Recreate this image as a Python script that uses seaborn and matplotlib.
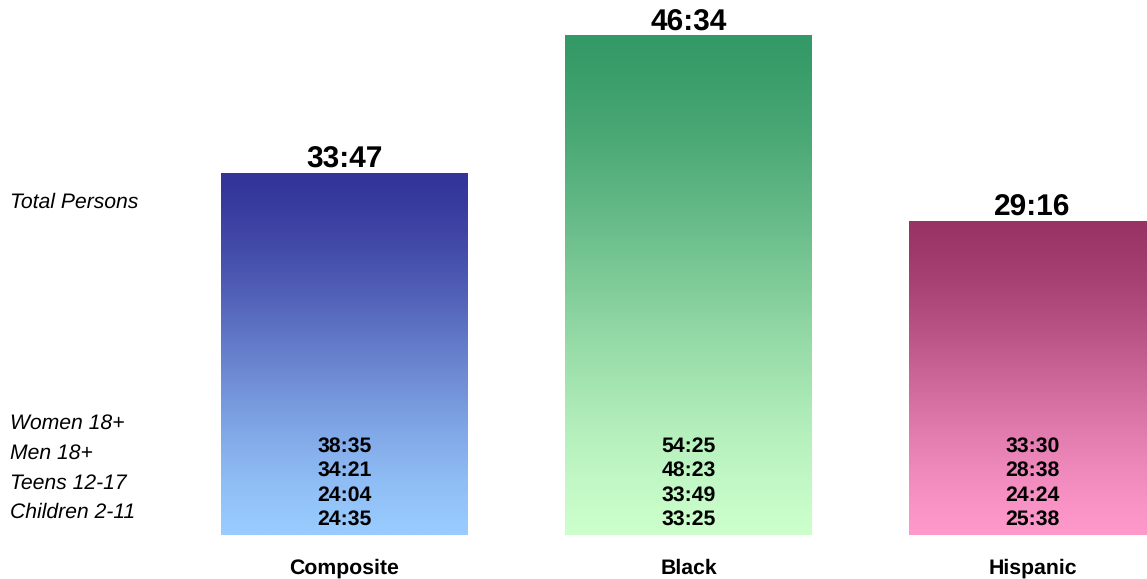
import numpy as np
import pandas as pd
import matplotlib
matplotlib.use("Agg")
import matplotlib.pyplot as plt
import seaborn as sns
from matplotlib.colors import to_rgb

# Weekly viewing time (hh:mm) by audience group
groups = ["Composite", "Black", "Hispanic"]
total_persons = ["33:47", "46:34", "29:16"]
demo_labels = ["Women 18+", "Men 18+", "Teens 12-17", "Children 2-11"]
demo_values = {
    "Composite": ["38:35", "34:21", "24:04", "24:35"],
    "Black": ["54:25", "48:23", "33:49", "33:25"],
    "Hispanic": ["33:30", "28:38", "24:24", "25:38"],
}
top_colors = ["#333399", "#339966", "#993366"]
bottom_colors = ["#99CCFF", "#CCFFCC", "#FF99CC"]


def to_hours(s):
    h, m = s.split(":")
    return int(h) + int(m) / 60.0


df = pd.DataFrame({"group": groups, "hours": [to_hours(v) for v in total_persons]})

sns.set_theme(style="white")
plt.rcParams["font.family"] = ["Liberation Sans", "DejaVu Sans"]
plt.rcParams["text.hinting"] = "no_hinting"

W, H, DPI = 1147, 579, 100
fig = plt.figure(figsize=(W / DPI, H / DPI), dpi=DPI)
base_px = 535
ax = fig.add_axes([0, (H - base_px) / H, 1, base_px / H])

sns.barplot(data=df, x="group", y="hours", width=0.718, color="white",
            ax=ax, linewidth=0, saturation=1)

px_per_unit_x = 344.0
ax.set_xlim(-344.5 / px_per_unit_x, (W - 344.5) / px_per_unit_x)
ax.set_ylim(0, base_px / 10.73)
ax.axis("off")

# Vertical gradient fill for each bar, clipped to the bar shape
t = np.linspace(0, 1, 256)
t = 0.5 * t + 0.5 * (t * t * (3 - 2 * t))
t = t[:, None, None]
for patch, c_top, c_bot in zip(ax.patches, top_colors, bottom_colors):
    x0, w, h = patch.get_x(), patch.get_width(), patch.get_height()
    grad = (1 - t) * np.array(to_rgb(c_top)) + t * np.array(to_rgb(c_bot))
    im = ax.imshow(grad, extent=[x0, x0 + w, 0, h], aspect="auto",
                   origin="upper", zorder=1, interpolation="bilinear")
    im.set_clip_path(patch)
    patch.set_facecolor("none")

# Total value labels above the bars
for i, (g, v) in enumerate(zip(groups, total_persons)):
    ax.annotate(v, xy=(i, to_hours(v)), xytext=(0, -1), textcoords="offset points",
                ha="center", va="bottom", fontsize=21.5, fontweight="bold",
                color="black", annotation_clip=False)
    # demographic values stacked near the base of each bar
    for k, dv in enumerate(demo_values[g]):
        off_px = 88.5 - k * 24.3
        ax.annotate(dv, xy=(i, 0), xytext=(0, off_px * 0.72), textcoords="offset points",
                    ha="center", va="center", fontsize=15.3, fontweight="bold",
                    color="black", annotation_clip=False)
    # category label under the bar
    ax.annotate(g, xy=(i, 0), xytext=(0, -33 * 0.72), textcoords="offset points",
                ha="center", va="center", fontsize=15.3, fontweight="bold",
                color="black", annotation_clip=False)

# Row labels on the left
fig.text(10 / W, 1 - 202.5 / H, "Total Persons", ha="left", va="center",
         fontsize=15.2, fontstyle="italic", color="black")
for k, lab in enumerate(demo_labels):
    y_px = 423.5 + k * 29.7
    fig.text(10 / W, 1 - y_px / H, lab, ha="left", va="center",
             fontsize=15.2, fontstyle="italic", color="black")

fig.savefig("out.png", dpi=DPI, facecolor="white")
